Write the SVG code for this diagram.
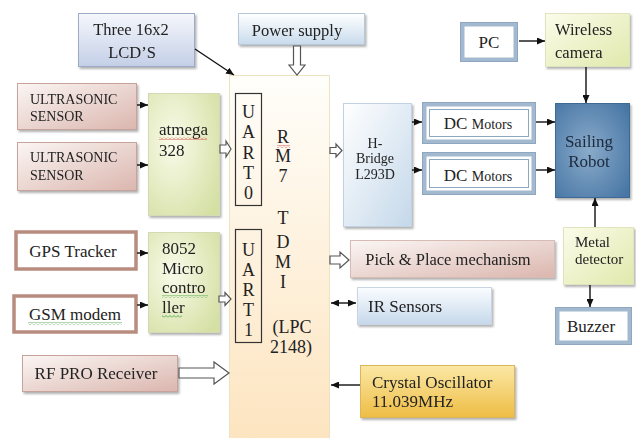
<svg xmlns="http://www.w3.org/2000/svg" width="636" height="438" viewBox="0 0 636 438" font-family="'Times New Roman', Times, 'Liberation Serif', Tinos, 'DejaVu Serif', 'Noto Serif', FreeSerif, serif">
<defs>
<style>
text{font-family:"Times New Roman",Times,"Liberation Serif",Tinos,"DejaVu Serif","Noto Serif",FreeSerif,serif;fill:#222}
.t17{font-size:17px}
.t16{font-size:16.5px}
.t15{font-size:15px}
.t14{font-size:14px}
.big{font-size:18px}
.conn line{stroke:#111;stroke-width:1.4;fill:none}
.hollow{fill:#fff;stroke:#555;stroke-width:1.2}
.band{fill:#a3b9cf;stroke:#8ea6bf;stroke-width:1}
.inner{fill:#fff;stroke:#fff;stroke-width:1}
.inline{fill:none;stroke:#8fa8c2;stroke-width:1}
</style>
<linearGradient id="gLcd" x1="0" y1="0" x2="0" y2="1"><stop offset="0" stop-color="#f5f7fc"/><stop offset="1" stop-color="#c4cfe7"/></linearGradient>
<linearGradient id="gPow" x1="0" y1="0" x2="0" y2="1"><stop offset="0" stop-color="#ffffff"/><stop offset="1" stop-color="#c8dbec"/></linearGradient>
<linearGradient id="gPink" x1="0" y1="0" x2="1" y2="1"><stop offset="0" stop-color="#fbf6f4"/><stop offset="1" stop-color="#dbb6ae"/></linearGradient>
<radialGradient id="gGreen" cx="0.35" cy="0.4" r="0.8"><stop offset="0" stop-color="#f9fbea"/><stop offset="1" stop-color="#d4dfa2"/></radialGradient>
<linearGradient id="gHB" x1="0" y1="0" x2="1" y2="1"><stop offset="0" stop-color="#ffffff"/><stop offset="1" stop-color="#c4d8ea"/></linearGradient>
<radialGradient id="gRobot" cx="0.45" cy="0.5" r="0.7"><stop offset="0" stop-color="#8aabca"/><stop offset="1" stop-color="#4675a4"/></radialGradient>
<linearGradient id="gYG" x1="0" y1="0" x2="1" y2="1"><stop offset="0" stop-color="#fbfcea"/><stop offset="1" stop-color="#e0e9ac"/></linearGradient>
<linearGradient id="gGold" x1="0" y1="0" x2="0" y2="1"><stop offset="0" stop-color="#fbe8a6"/><stop offset="1" stop-color="#eebd44"/></linearGradient>
<linearGradient id="gMain" x1="0" y1="0" x2="0" y2="1"><stop offset="0" stop-color="#fffefa"/><stop offset="1" stop-color="#fde4bf"/></linearGradient>
<linearGradient id="gIR" x1="0" y1="0" x2="0" y2="1"><stop offset="0" stop-color="#fbfdff"/><stop offset="1" stop-color="#c6d8eb"/></linearGradient>
<filter id="sh" x="-10%" y="-10%" width="130%" height="140%"><feDropShadow dx="1.5" dy="2" stdDeviation="1.2" flood-color="#000" flood-opacity="0.3"/></filter>
<marker id="ah" viewBox="0 0 8 7" refX="8" refY="3.5" markerWidth="8" markerHeight="7" markerUnits="userSpaceOnUse" orient="auto-start-reverse"><path d="M0,0 L8,3.5 L0,7 z" fill="#111"/></marker>
<pattern id="wr" width="4" height="3" patternUnits="userSpaceOnUse"><path d="M0 2.5 L2 0.5 L4 2.5" fill="none" stroke="#d03030" stroke-width="0.8"/></pattern>
<pattern id="wg" width="4" height="3" patternUnits="userSpaceOnUse"><path d="M0 2.5 L2 0.5 L4 2.5" fill="none" stroke="#3a9a3a" stroke-width="0.8"/></pattern>
</defs>
<rect width="636" height="438" fill="#fff"/>

<g id="main-arm7">
<rect x="229.5" y="75.5" width="100" height="370" fill="url(#gMain)" stroke="#ebe4c2" stroke-width="1"/>
<text class="big" x="283" y="143" text-anchor="middle">R</text>
<text class="big" x="283" y="162" text-anchor="middle">M</text>
<text class="big" x="283" y="182" text-anchor="middle">7</text>
<text class="big" x="283" y="224" text-anchor="middle">T</text>
<text class="big" x="283" y="248" text-anchor="middle">D</text>
<text class="big" x="283" y="268" text-anchor="middle">M</text>
<text class="big" x="283" y="288" text-anchor="middle">I</text>
<text class="big" x="292" y="333" text-anchor="middle">(LPC</text>
<text class="big" x="291" y="353" text-anchor="middle">2148)</text>
<rect x="277" y="145" width="13" height="3" fill="url(#wr)"/>
</g>
<g id="uart0">
<rect x="235.5" y="93.5" width="26" height="112" fill="none" stroke="#333" stroke-width="1.2"/>
<text class="big" x="248.5" y="118" text-anchor="middle">U</text>
<text class="big" x="248.5" y="138" text-anchor="middle">A</text>
<text class="big" x="248.5" y="159" text-anchor="middle">R</text>
<text class="big" x="248.5" y="179" text-anchor="middle">T</text>
<text class="big" x="248.5" y="199" text-anchor="middle">0</text>
</g>
<g id="uart1">
<rect x="235.5" y="229.5" width="26" height="113" fill="none" stroke="#333" stroke-width="1.2"/>
<text class="big" x="248.5" y="256" text-anchor="middle">U</text>
<text class="big" x="248.5" y="276" text-anchor="middle">A</text>
<text class="big" x="248.5" y="296" text-anchor="middle">R</text>
<text class="big" x="248.5" y="316" text-anchor="middle">T</text>
<text class="big" x="248.5" y="336" text-anchor="middle">1</text>
</g>

<g id="lcd" filter="url(#sh)">
<rect x="78.5" y="13.5" width="116" height="53" fill="url(#gLcd)" stroke="#9eabc6"/>
<text class="t16" x="131" y="35" text-anchor="middle">Three 16x2</text>
<text class="t16" x="132" y="58" text-anchor="middle">LCD’S</text>
</g>
<g id="power" filter="url(#sh)">
<rect x="238.5" y="13.5" width="126" height="31" fill="url(#gPow)" stroke="#b7c8d8"/>
<text class="t16" x="297" y="36" text-anchor="middle">Power supply</text>
</g>
<g id="us1" filter="url(#sh)">
<rect x="17.5" y="83.5" width="119" height="46" fill="url(#gPink)" stroke="#c6a49c"/>
<text class="t14" x="30" y="104">ULTRASONIC</text>
<text class="t14" x="30" y="121">SENSOR</text>
</g>
<g id="us2" filter="url(#sh)">
<rect x="17.5" y="142.5" width="119" height="48" fill="url(#gPink)" stroke="#c6a49c"/>
<text class="t14" x="30" y="162">ULTRASONIC</text>
<text class="t14" x="30" y="180">SENSOR</text>
</g>
<g id="atmega" filter="url(#sh)">
<rect x="148.5" y="93.5" width="71" height="122" fill="url(#gGreen)" stroke="#d3dab4"/>
<text class="t17" x="159" y="135">atmega</text>
<text class="t17" x="159" y="156">328</text>
<rect x="159" y="137" width="48" height="3" fill="url(#wr)"/>
</g>
<g id="gps">
<rect x="16" y="232" width="120" height="37" fill="#fff" stroke="#b88c7e" stroke-width="3.5"/>
<text class="t17" x="73" y="257" text-anchor="middle">GPS Tracker</text>
</g>
<g id="mc8052" filter="url(#sh)">
<rect x="148.5" y="232.5" width="71" height="100" fill="url(#gGreen)" stroke="#d3dab4"/>
<text class="t17" x="162" y="254">8052</text>
<text class="t17" x="162" y="274">Micro</text>
<text class="t17" x="162" y="293">contro</text>
<text class="t17" x="162" y="313">ller</text>
<rect x="162" y="295" width="46" height="3" fill="url(#wg)"/>
<rect x="162" y="315" width="20" height="3" fill="url(#wg)"/>
</g>
<g id="gsm">
<rect x="14" y="296" width="122" height="36" fill="#fff" stroke="#b88c7e" stroke-width="3.5"/>
<text class="t17" x="75" y="320" text-anchor="middle">GSM modem</text>
<rect x="28" y="322" width="94" height="3" fill="url(#wg)"/>
</g>
<g id="rf" filter="url(#sh)">
<rect x="22.5" y="355.5" width="155" height="36" fill="url(#gPink)" stroke="#c6a49c"/>
<text class="t17" x="96" y="379" text-anchor="middle">RF PRO Receiver</text>
</g>
<g id="hbridge" filter="url(#sh)">
<rect x="343.5" y="103.5" width="68" height="123" fill="url(#gHB)" stroke="#c2d2e2"/>
<text class="t14" x="375" y="148" text-anchor="middle">H-</text>
<text class="t14" x="375" y="163" text-anchor="middle">Bridge</text>
<text class="t14" x="375" y="179" text-anchor="middle">L293D</text>
</g>
<g id="dc1">
<rect class="band" x="422.5" y="102.5" width="113" height="41"/>
<rect class="inner" x="427" y="107" width="104" height="32"/>
<rect class="inline" x="429.5" y="109.5" width="99" height="27"/>
<text x="478" y="129" text-anchor="middle"><tspan font-size="17">DC </tspan><tspan font-size="14">Motors</tspan></text>
</g>
<g id="dc2">
<rect class="band" x="422.5" y="152.5" width="113" height="42"/>
<rect class="inner" x="427" y="157" width="104" height="33"/>
<rect class="inline" x="429.5" y="159.5" width="99" height="28"/>
<text x="478" y="181" text-anchor="middle"><tspan font-size="17">DC </tspan><tspan font-size="14">Motors</tspan></text>
</g>
<g id="robot" filter="url(#sh)">
<rect x="555.5" y="103.5" width="74" height="94" fill="url(#gRobot)" stroke="#3e6993"/>
<text class="t17" x="589" y="147" text-anchor="middle" style="fill:#1b2a3d">Sailing</text>
<text class="t17" x="589" y="167" text-anchor="middle" style="fill:#1b2a3d">Robot</text>
</g>
<g id="pc">
<rect class="band" x="460.5" y="22.5" width="57" height="39"/>
<rect class="inner" x="465" y="27" width="48" height="30"/>
<text class="t17" x="489" y="48" text-anchor="middle">PC</text>
</g>
<g id="camera" filter="url(#sh)">
<rect x="545.5" y="13.5" width="84" height="53" fill="url(#gYG)" stroke="#dfe4bf"/>
<text class="t16" x="555" y="35">Wireless</text>
<text class="t16" x="555" y="58">camera</text>
</g>
<g id="metal" filter="url(#sh)">
<rect x="563.5" y="227.5" width="70" height="57" fill="url(#gYG)" stroke="#dfe4bf"/>
<text class="t15" x="575" y="247">Metal</text>
<text class="t15" x="575" y="264">detector</text>
</g>
<g id="buzzer">
<rect class="band" x="555.5" y="307.5" width="76" height="37"/>
<rect class="inner" x="560" y="312" width="67" height="28"/>
<text class="t17" x="591" y="332" text-anchor="middle">Buzzer</text>
</g>
<g id="pick" filter="url(#sh)">
<rect x="350.5" y="240.5" width="204" height="37" fill="url(#gPink)" stroke="#d6bcb4"/>
<text class="t16" x="448" y="265" text-anchor="middle">Pick &amp; Place mechanism</text>
</g>
<g id="ir" filter="url(#sh)">
<rect x="357.5" y="287.5" width="134" height="37" fill="url(#gIR)" stroke="#c8d6e4"/>
<text class="t17" x="368" y="312">IR Sensors</text>
</g>
<g id="crystal" filter="url(#sh)">
<rect x="360.5" y="365.5" width="154" height="52" fill="url(#gGold)" stroke="#dcb65a"/>
<text class="t17" x="372" y="388">Crystal Oscillator</text>
<text class="t17" x="372" y="407">11.039MHz</text>
</g>

<g id="connectors" class="conn">
<line x1="195" y1="49" x2="234" y2="75" marker-end="url(#ah)"/>
<line x1="137" y1="105" x2="148" y2="105" marker-end="url(#ah)"/>
<line x1="137" y1="165" x2="148" y2="165" marker-end="url(#ah)"/>
<line x1="137" y1="253" x2="148" y2="253" marker-end="url(#ah)"/>
<line x1="137" y1="305" x2="148" y2="305" marker-end="url(#ah)"/>
<line x1="412" y1="122" x2="422" y2="122" marker-end="url(#ah)"/>
<line x1="412" y1="170" x2="422" y2="170" marker-end="url(#ah)"/>
<line x1="536" y1="122" x2="555" y2="122" marker-end="url(#ah)"/>
<line x1="536" y1="170" x2="555" y2="170" marker-end="url(#ah)"/>
<line x1="519" y1="41" x2="545" y2="41" marker-end="url(#ah)"/>
<line x1="586" y1="67" x2="586" y2="103" marker-end="url(#ah)"/>
<line x1="595" y1="227" x2="595" y2="198" marker-end="url(#ah)"/>
<line x1="590" y1="285" x2="590" y2="307" marker-end="url(#ah)"/>
<line x1="331" y1="303" x2="356" y2="303" marker-start="url(#ah)" marker-end="url(#ah)"/>
<line x1="360" y1="385" x2="331" y2="385" marker-end="url(#ah)"/>
<polygon class="hollow" points="293.5,46 300.5,46 300.5,65 305,65 297,75 289,65 293.5,65"/>
<polygon class="hollow" points="220,145 226,145 226,141 231,149 226,157 226,153 220,153"/>
<polygon class="hollow" points="330,147.5 336,147.5 336,144 342,150.5 336,157 336,153.5 330,153.5"/>
<polygon class="hollow" points="219,296 225,296 225,292.5 231,299 225,305.5 225,302 219,302"/>
<polygon class="hollow" points="330,256 340,256 340,252 349,260 340,268 340,264 330,264"/>
<polygon class="hollow" points="179,368 214,368 214,362 229,373 214,384 214,378 179,378"/>
</g>
</svg>
